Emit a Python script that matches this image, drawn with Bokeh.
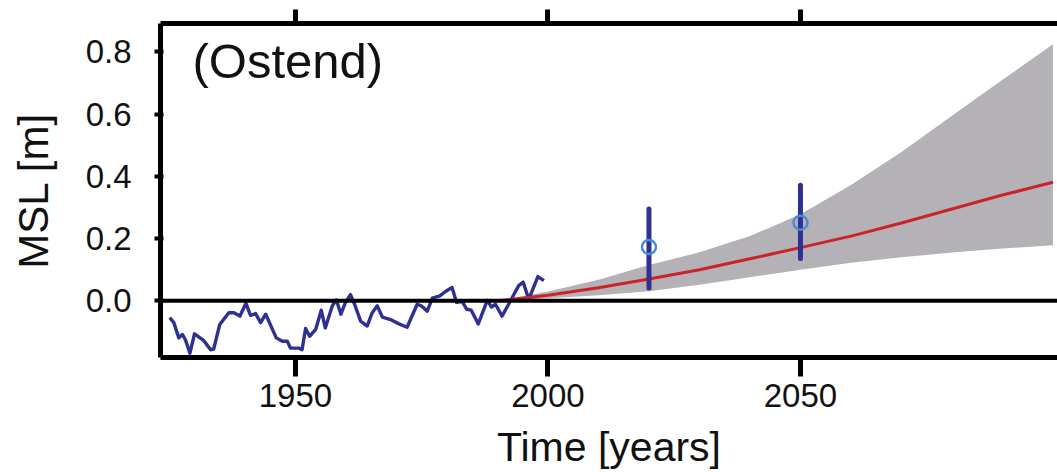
from bokeh.plotting import figure
from bokeh.models import (Range1d, FixedTicker, LinearAxis, Span, Label,
                          PrintfTickFormatter)
from bokeh.embed import file_html
from bokeh.resources import INLINE

# Observed Ostend mean sea level (tide gauge), metres
obs_years = [1925.1, 1925.9, 1926.9, 1927.6, 1928.2, 1929.1, 1930.0, 1931.8, 1933.2, 1933.8,
             1935.0, 1936.8, 1937.8, 1939.0, 1940.2, 1941.1, 1942.1, 1943.1, 1944.1, 1946.2,
             1947.4, 1948.4, 1949.0, 1950.7, 1951.3, 1952.0, 1952.8, 1954.0, 1955.1, 1955.9,
             1957.3, 1958.1, 1959.0, 1959.9, 1960.9, 1961.7, 1962.9, 1964.2, 1965.2, 1966.2,
             1967.2, 1968.8, 1970.5, 1972.1, 1974.1, 1974.9, 1976.1, 1977.1, 1978.6, 1979.7,
             1981.0, 1981.9, 1983.0, 1983.9, 1984.8, 1986.2, 1988.0, 1988.8, 1989.6, 1990.9,
             1992.2, 1994.2, 1995.1, 1996.2, 1998.0, 1999.2]
obs_msl = [-0.054, -0.070, -0.119, -0.108, -0.125, -0.168, -0.106, -0.127, -0.157, -0.155,
           -0.076, -0.038, -0.038, -0.049, -0.008, -0.047, -0.041, -0.070, -0.043, -0.119,
           -0.130, -0.130, -0.152, -0.152, -0.157, -0.089, -0.114, -0.092, -0.030, -0.087,
           -0.016, 0.003, -0.043, -0.005, 0.020, -0.011, -0.065, -0.081, -0.038, -0.016,
           -0.052, -0.060, -0.074, -0.085, -0.011, -0.016, -0.033, 0.009, 0.016, 0.030,
           0.043, -0.005, -0.002, -0.027, -0.030, -0.074, 0.002, -0.020, -0.011, -0.049,
           -0.011, 0.049, 0.060, 0.005, 0.078, 0.065]

# Projection (central estimate and uncertainty band)
proj_years = [1990, 2000, 2010, 2020, 2030, 2040, 2050, 2060, 2070, 2080, 2090, 2100]
proj_mean = [0.0, 0.018, 0.042, 0.070, 0.100, 0.135, 0.171, 0.208, 0.250, 0.295, 0.340, 0.381]
proj_upper = [0.0, 0.030, 0.068, 0.115, 0.156, 0.208, 0.278, 0.372, 0.478, 0.595, 0.710, 0.824]
proj_lower = [0.0, 0.008, 0.018, 0.031, 0.052, 0.076, 0.100, 0.122, 0.140, 0.155, 0.168, 0.179]

# Other estimates with ranges
est_years = [2020, 2050]
est_value = [0.173, 0.251]
est_low = [0.041, 0.136]
est_high = [0.295, 0.371]

x_ticks = [1950, 2000, 2050]
y_ticks = [0.0, 0.2, 0.4, 0.6, 0.8]

FONT = "Liberation Sans"
NAVY = "#2e3192"
TXT = "#111111"

p = figure(width=1057, height=472, output_backend="svg", toolbar_location=None,
           x_range=Range1d(1923.27, 2100.9), y_range=Range1d(-0.182, 0.891),
           min_border_left=160, min_border_top=23, min_border_right=0,
           min_border_bottom=115)
p.outline_line_color = None
p.xgrid.visible = False
p.ygrid.visible = False
p.background_fill_color = "white"
p.border_fill_color = "white"

# band, lines
p.varea(x=proj_years, y1=proj_lower, y2=proj_upper, fill_color="#b4b2b7", fill_alpha=1.0)
p.add_layout(Span(location=0, dimension="width", line_color="black", line_width=4))
p.line(obs_years, obs_msl, line_color=NAVY, line_width=3.4, line_join="round")
p.line(proj_years, proj_mean, line_color="#cc2229", line_width=3)
p.segment(x0=est_years, y0=est_low, x1=est_years, y1=est_high, line_color=NAVY,
          line_width=5, line_cap="round")
p.scatter(est_years, est_value, size=14, fill_color=None, line_color="#4a8ad8",
          line_width=2.5)

p.add_layout(Label(x=1929.6, y=0.77, text="(Ostend)", text_font=FONT,
                   text_font_size="49px", text_color=TXT,
                   text_baseline="alphabetic", text_align="left"))

# axes
xa = p.xaxis[0]
xa.ticker = FixedTicker(ticks=x_ticks)
xa.axis_line_width = 5
xa.axis_line_color = "black"
xa.major_tick_line_width = 5
xa.major_tick_out = 19
xa.major_tick_in = 0
xa.minor_tick_out = 0
xa.minor_tick_in = 0
xa.major_label_standoff = 7
xa.major_label_text_font = FONT
xa.major_label_text_font_size = "33px"
xa.major_label_text_color = TXT
xa.axis_label = "Time [years]"
xa.axis_label_text_font = FONT
xa.axis_label_text_font_size = "41px"
xa.axis_label_text_font_style = "normal"
xa.axis_label_text_color = TXT
xa.axis_label_standoff = 14

ya = p.yaxis[0]
ya.ticker = FixedTicker(ticks=y_ticks)
ya.formatter = PrintfTickFormatter(format="%.1f")
ya.axis_line_width = 5
ya.axis_line_color = "black"
ya.major_tick_line_width = 4
ya.major_tick_out = 6
ya.major_tick_in = 3
ya.minor_tick_out = 0
ya.minor_tick_in = 0
ya.major_label_standoff = 23
ya.major_label_text_font = FONT
ya.major_label_text_font_size = "33px"
ya.major_label_text_color = TXT
ya.axis_label = "MSL [m]"
ya.axis_label_text_font = FONT
ya.axis_label_text_font_size = "42px"
ya.axis_label_text_font_style = "normal"
ya.axis_label_text_color = TXT
ya.axis_label_standoff = 26

top = LinearAxis(ticker=FixedTicker(ticks=x_ticks))
top.axis_line_width = 5
top.axis_line_color = "black"
top.major_tick_line_width = 5
top.major_tick_out = 14
top.major_tick_in = 0
top.minor_tick_out = 0
top.minor_tick_in = 0
top.major_label_standoff = 0
top.major_label_text_font_size = "0px"
top.major_label_text_alpha = 0
p.add_layout(top, "above")

open("out.html", "w").write(file_html(p, INLINE))
